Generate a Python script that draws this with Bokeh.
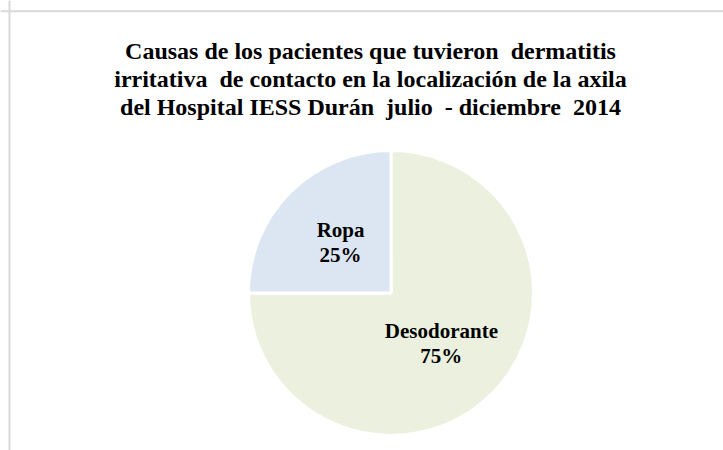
import math
from bokeh.plotting import figure
from bokeh.models import Range1d, Span, Label, ColumnDataSource
from bokeh.core.properties import value
from bokeh.embed import file_html
from bokeh.resources import INLINE

# Data
categories = ["Desodorante", "Ropa"]
percentages = [75, 25]
colors = ["#EBF1DE", "#DCE6F2"]
title_lines = [
    "Causas de los pacientes que tuvieron  dermatitis",
    "irritativa  de contacto en la localización de la axila",
    "del Hospital IESS Durán  julio  - diciembre  2014",
]

FONT = "'Liberation Serif', 'Times New Roman', Times, serif"
W, H = 723, 450
cx, cy, r = 390.5, H - 292.5, 142.5
label_frac = 0.5

total = sum(percentages)
starts, ends, lx, ly, labels = [], [], [], [], []
cum = 0.0
for cat, v in zip(categories, percentages):
    a0 = math.pi / 2 - 2 * math.pi * cum / total
    cum += v
    a1 = math.pi / 2 - 2 * math.pi * cum / total
    starts.append(a0)
    ends.append(a1)
    mid = (a0 + a1) / 2
    lx.append(cx + label_frac * r * math.cos(mid))
    ly.append(cy + label_frac * r * math.sin(mid))
    labels.append(f"{cat}\n{v}%")

src = ColumnDataSource(dict(start=starts, end=ends, color=colors,
                            lx=lx, ly=ly, label=labels))

p = figure(width=W, height=H, x_range=Range1d(0, W), y_range=Range1d(0, H),
           output_backend="svg", toolbar_location=None, min_border=0)
p.axis.visible = False
p.grid.visible = False
p.outline_line_color = None
p.background_fill_color = "white"

# chart area border (top and left visible)
p.add_layout(Span(location=H - 10.8, dimension="width", line_color="#D9D9D9", line_width=2))
p.add_layout(Span(location=9.0, dimension="height", line_color="#D9D9D9", line_width=2))

p.wedge(x=cx, y=cy, radius=r, start_angle="start", end_angle="end",
        direction="clock", fill_color="color", line_color="white",
        line_width=3, source=src)

p.text(x="lx", y="ly", text="label", source=src,
       text_font=value(FONT), text_font_style="bold",
       text_font_size="21px", text_color="#000000",
       text_align="center", text_baseline="middle", text_line_height=1.05)

title_y = [H - 50.0, H - 78.5, H - 106.5]
for t, yy in zip(title_lines, title_y):
    p.add_layout(Label(x=370, y=yy, text=t.replace("  ", "\u00a0 "),
                       text_align="center", text_baseline="alphabetic",
                       text_font=FONT, text_font_style="bold",
                       text_font_size="24px", text_color="#000000"))

open("out.html", "w").write(file_html(p, INLINE))
